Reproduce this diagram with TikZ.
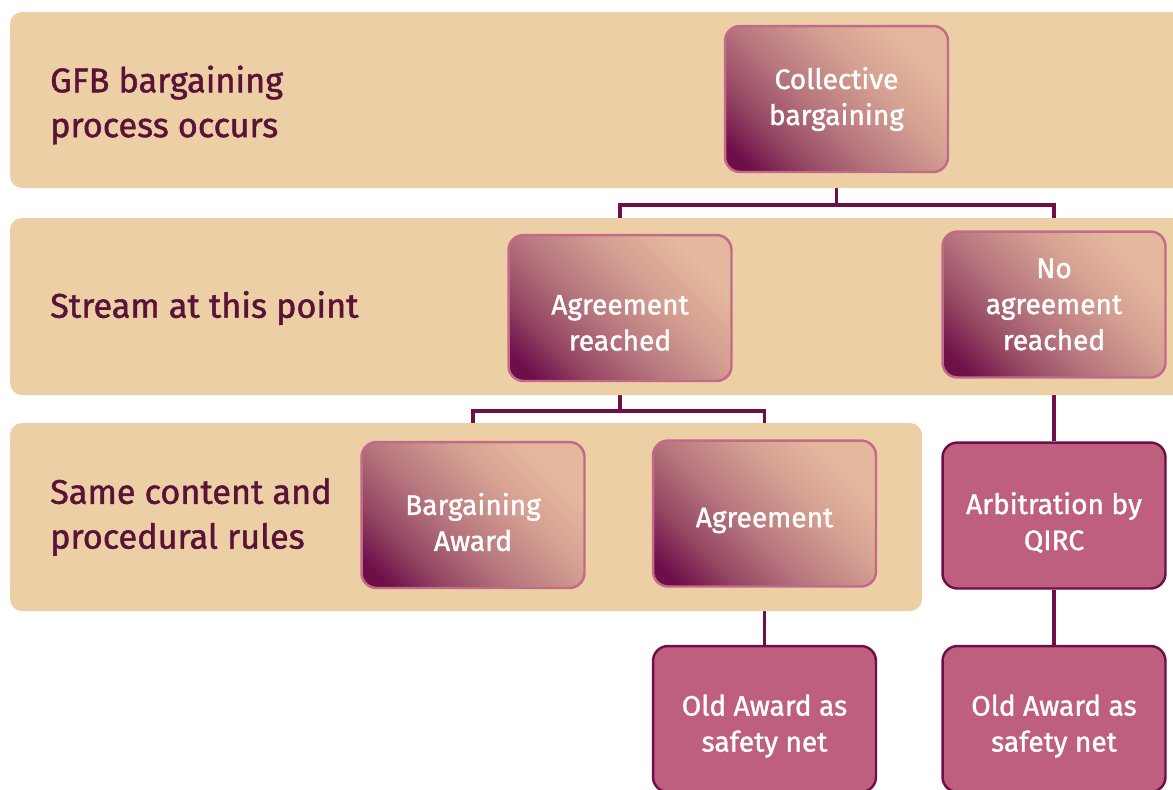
\documentclass[tikz,border=0pt]{standalone}
\usepackage{fontspec}
\setmainfont{Fira Sans}[UprightFeatures={FakeBold=1.3}]
\usetikzlibrary{positioning}
\definecolor{band}{HTML}{EDCFA6}
\definecolor{wine}{HTML}{6E0F4A}
\definecolor{peach}{HTML}{E4B89D}
\definecolor{plum}{HTML}{954763}
\definecolor{mauve}{HTML}{B6767E}
\definecolor{blush}{HTML}{D5A092}
\definecolor{rosebox}{HTML}{BE5F7E}
\definecolor{roseline}{HTML}{C4698A}
\definecolor{labeltext}{HTML}{5A1238}
\pgfdeclarehorizontalshading{boxshade}{100bp}{color(0bp)=(wine); color(20bp)=(wine);
  color(31bp)=(plum); color(44bp)=(mauve); color(60bp)=(blush); color(74bp)=(peach); color(100bp)=(peach)}
\pgfdeclarelayer{background}
\pgfsetlayers{background,main}
% lower one line of box text, keeping its size
\newcommand{\lowline}[2]{\raisebox{-#1}[\height][\depth]{#2}}

\begin{document}
\begin{tikzpicture}[x=0.02cm,y=-0.02cm,
    bandfill/.style={fill=band,rounded corners=0.24cm},
    bandlabel/.style={anchor=west,align=left,text=labeltext,font=\fontsize{19.5}{25.5}\selectfont},
    shadebox/.style={draw=roseline,line width=1.4pt,rounded corners=0.3cm,
      shading=boxshade,shading angle=45,
      minimum width=4.46cm,minimum height=2.92cm,align=center,text=white,
      font=\fontsize{16}{20.5}\selectfont},
    flatbox/.style={draw=wine,line width=1.4pt,rounded corners=0.3cm,fill=rosebox,
      minimum width=4.46cm,minimum height=2.92cm,align=center,text=white,
      font=\fontsize{16}{20.5}\selectfont},
    link/.style={draw=wine,line width=2pt}]
  \useasboundingbox (0,0) rectangle (1173,789);
  % bands
  \fill[bandfill] (10,12) rectangle (1190,188);
  \fill[bandfill] (10,218) rectangle (1190,395);
  \fill[bandfill] (10,423) rectangle (922,611);
  \node[bandlabel] (gfb) at (44,105) {GFB bargaining\\process occurs};
  \node[bandlabel] (stream) at (44,308) {Stream at this point};
  \node[bandlabel] (same) at (44,517) {Same content and\\procedural rules};
  % boxes
  \node[shadebox] (coll) at (836.5,99) {Collective\\bargaining};
  \node[shadebox] (agr) at (620,308) {\lowline{8.5pt}{Agreement}\\\lowline{8.5pt}{reached}};
  \node[shadebox] (noagr) at (1054,304.5) {No\\agreement\\reached};
  \node[shadebox] (baward) at (473,515) {\lowline{4pt}{Bargaining}\\\lowline{4pt}{Award}};
  \node[shadebox] (agmt) at (764.5,513.5) {\lowline{4pt}{Agreement}};
  \node[flatbox] (arb) at (1054,515.5) {\lowline{4pt}{Arbitration by}\\\lowline{4pt}{QIRC}};
  \node[flatbox] (oldl) at (764.5,719) {\lowline{4pt}{Old Award as}\\\lowline{4pt}{safety net}};
  \node[flatbox] (oldr) at (1054,719) {\lowline{4pt}{Old Award as}\\\lowline{4pt}{safety net}};
  % connectors
  \begin{pgfonlayer}{background}
    \draw[link] (coll.south) -- ++(0,32) -| (agr.north);
    \draw[link] (coll.south) -- ++(0,32) -| (noagr.north);
    \draw[link] (agr.south) -- ++(0,29) -| (baward.north);
    \draw[link] (agr.south) -- ++(0,29) -| (agmt.north);
    \draw[link] (noagr.south) -- (arb.north);
    \draw[link] (agmt.south) -- (oldl.north);
    \draw[link] (arb.south) -- (oldr.north);
  \end{pgfonlayer}
\end{tikzpicture}
\end{document}
